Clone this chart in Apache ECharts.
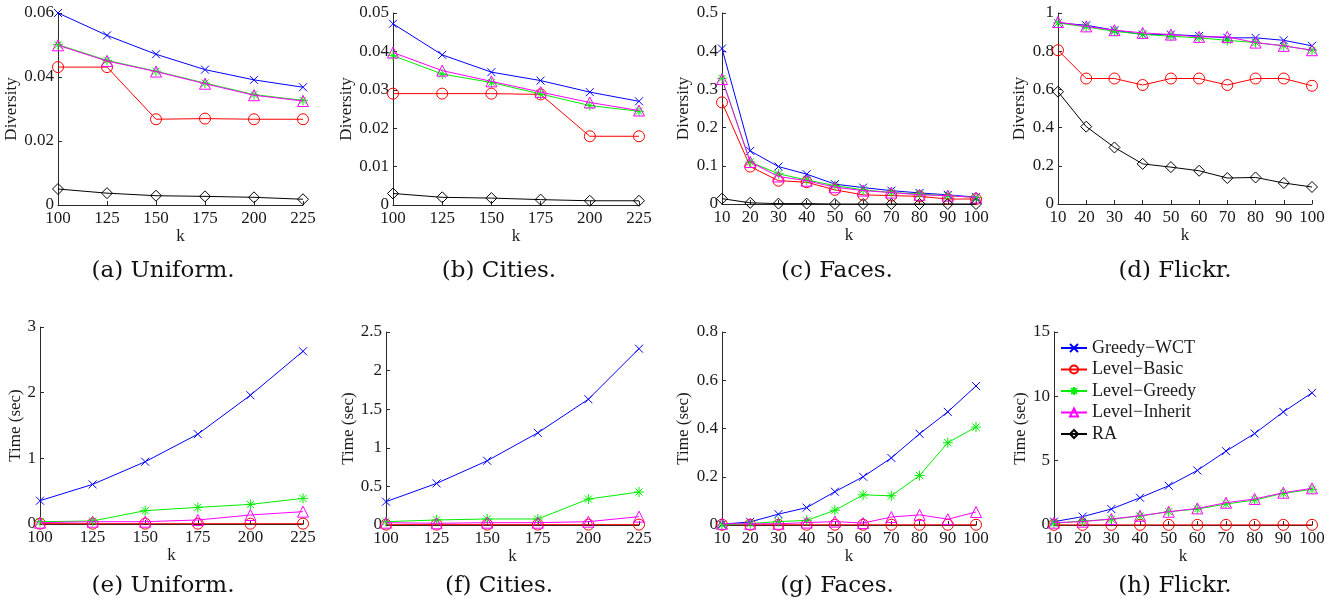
<!DOCTYPE html>
<html><head><meta charset="utf-8">
<script src="https://cdn.jsdelivr.net/npm/echarts@6/dist/echarts.min.js"></script>
<style>html,body{margin:0;padding:0;background:#fff}#c{width:1341px;height:608px}</style>
</head><body><div id="c"></div>
<script>
// ---------- DATA ----------
const seriesNames = ['Greedy\u2212WCT', 'Level\u2212Basic', 'Level\u2212Greedy', 'Level\u2212Inherit', 'RA'];
const kSmall = [100, 125, 150, 175, 200, 225];
const kLarge = [10, 20, 30, 40, 50, 60, 70, 80, 90, 100];
const captions = ['(a) Uniform.', '(b) Cities.', '(c) Faces.', '(d) Flickr.', '(e) Uniform.', '(f) Cities.', '(g) Faces.', '(h) Flickr.'];

// rows: Greedy-WCT, Level-Basic, Level-Greedy, Level-Inherit, RA
const divUniform = [
  [0.0600, 0.0530, 0.0471, 0.0423, 0.0391, 0.0368],
  [0.0431, 0.0431, 0.0268, 0.0270, 0.0268, 0.0268],
  [0.0501, 0.0452, 0.0418, 0.0381, 0.0345, 0.0327],
  [0.0499, 0.0450, 0.0417, 0.0379, 0.0343, 0.0325],
  [0.0050, 0.0037, 0.0029, 0.0027, 0.0024, 0.0018]
];
const divCities = [
  [0.0472, 0.0391, 0.0346, 0.0324, 0.0294, 0.0270],
  [0.0290, 0.0290, 0.0290, 0.0288, 0.0179, 0.0179],
  [0.0389, 0.0341, 0.0319, 0.0289, 0.0259, 0.0244],
  [0.0397, 0.0350, 0.0322, 0.0294, 0.0267, 0.0246],
  [0.0030, 0.0020, 0.0018, 0.0014, 0.0011, 0.0011]
];
const divFaces = [
  [0.407, 0.139, 0.098, 0.078, 0.052, 0.043, 0.035, 0.029, 0.024, 0.018],
  [0.266, 0.098, 0.061, 0.057, 0.037, 0.024, 0.022, 0.020, 0.013, 0.013],
  [0.329, 0.110, 0.079, 0.063, 0.048, 0.037, 0.030, 0.026, 0.022, 0.017],
  [0.327, 0.110, 0.072, 0.061, 0.044, 0.035, 0.030, 0.024, 0.022, 0.017],
  [0.014, 0.003, 0.001, 0.001, 0.000, 0.000, 0.000, 0.000, 0.000, 0.000]
];
const divFlickr = [
  [0.948, 0.936, 0.910, 0.887, 0.887, 0.880, 0.870, 0.870, 0.857, 0.828],
  [0.805, 0.657, 0.657, 0.623, 0.657, 0.657, 0.623, 0.657, 0.657, 0.619],
  [0.948, 0.927, 0.904, 0.889, 0.878, 0.870, 0.857, 0.845, 0.828, 0.805],
  [0.953, 0.930, 0.910, 0.896, 0.887, 0.875, 0.875, 0.845, 0.828, 0.805],
  [0.588, 0.405, 0.296, 0.210, 0.193, 0.174, 0.136, 0.139, 0.110, 0.089]
];
// time panels: RA is not drawn in the reference (rows: Greedy-WCT, Level-Basic, Level-Greedy, Level-Inherit)
const timeUniform = [
  [0.355, 0.603, 0.948, 1.368, 1.961, 2.630],
  [0.005, 0.005, 0.005, 0.005, 0.005, 0.005],
  [0.035, 0.046, 0.203, 0.253, 0.299, 0.390],
  [0.020, 0.035, 0.035, 0.061, 0.137, 0.188]
];
const timeCities = [
  [0.302, 0.539, 0.832, 1.194, 1.629, 2.284],
  [0.005, 0.005, 0.005, 0.005, 0.005, 0.005],
  [0.043, 0.065, 0.078, 0.078, 0.336, 0.427],
  [0.030, 0.022, 0.030, 0.030, 0.043, 0.108]
];
const timeFaces = [
  [0.003, 0.013, 0.045, 0.072, 0.138, 0.200, 0.278, 0.378, 0.469, 0.576],
  [0.001, 0.001, 0.001, 0.001, 0.001, 0.001, 0.001, 0.001, 0.001, 0.001],
  [0.000, 0.006, 0.014, 0.019, 0.061, 0.125, 0.121, 0.205, 0.341, 0.406],
  [0.005, 0.005, 0.005, 0.010, 0.014, 0.008, 0.033, 0.042, 0.024, 0.054]
];
const timeFlickr = [
  [0.26, 0.65, 1.24, 2.12, 3.05, 4.24, 5.74, 7.11, 8.79, 10.27],
  [0.01, 0.01, 0.01, 0.01, 0.01, 0.01, 0.01, 0.01, 0.01, 0.01],
  [0.13, 0.31, 0.44, 0.70, 1.03, 1.24, 1.63, 1.94, 2.46, 2.77],
  [0.18, 0.26, 0.47, 0.72, 1.03, 1.29, 1.73, 2.02, 2.51, 2.85]
];

// ---------- LAYOUT / STYLE ----------
const panels = [
  {k: kSmall, d: divUniform, xmin: 100, xmax: 225, xint: 25, ymax: 0.06, yint: 0.02, yname: 'Diversity', ng: 34, g: [58, 13, 245, 192], cx: 163, cy: 271},
  {k: kSmall, d: divCities, xmin: 100, xmax: 225, xint: 25, ymax: 0.05, yint: 0.01, yname: 'Diversity', ng: 34, g: [393, 13, 246, 192], cx: 499, cy: 271},
  {k: kLarge, d: divFaces, xmin: 10, xmax: 100, xint: 10, ymax: 0.5, yint: 0.1, yname: 'Diversity', ng: 30, g: [722, 13, 254, 191], cx: 837, cy: 271},
  {k: kLarge, d: divFlickr, xmin: 10, xmax: 100, xint: 10, ymax: 1, yint: 0.2, yname: 'Diversity', ng: 30, g: [1058, 13, 254, 191], cx: 1175, cy: 271},
  {k: kSmall, d: timeUniform, xmin: 100, xmax: 225, xint: 25, ymax: 3, yint: 1, yname: 'Time (sec)', ng: 16, g: [40, 327, 263, 197], cx: 163, cy: 586},
  {k: kSmall, d: timeCities, xmin: 100, xmax: 225, xint: 25, ymax: 2.5, yint: 0.5, yname: 'Time (sec)', ng: 28, g: [386, 332, 253, 193], cx: 499, cy: 586},
  {k: kLarge, d: timeFaces, xmin: 10, xmax: 100, xint: 10, ymax: 0.8, yint: 0.2, yname: 'Time (sec)', ng: 30, g: [722, 332, 254, 193], cx: 837, cy: 586},
  {k: kLarge, d: timeFlickr, xmin: 10, xmax: 100, xint: 10, ymax: 15, yint: 5, yname: 'Time (sec)', ng: 24, g: [1054, 332, 258, 193], cx: 1175, cy: 586}
];

const symX = 'path://M0,0L10,10M10,0L0,10';
const symStar = 'path://M5,0L5,10M0,5L10,5M1.4,1.4L8.6,8.6M8.6,1.4L1.4,8.6';
const styles = [
  {color: '#0000ff', symbol: symX, size: 8},
  {color: '#ff0000', symbol: 'circle', size: 11},
  {color: '#00ee00', symbol: symStar, size: 10},
  {color: '#ff00ff', symbol: 'triangle', size: 11},
  {color: '#000000', symbol: 'diamond', size: 11}
];

const FONT = 'Liberation Serif';
const axisColor = '#2a2a2a';

const grid = [], xAxis = [], yAxis = [], series = [], graphic = [];
panels.forEach((p, i) => {
  grid.push({left: p.g[0], top: p.g[1], width: p.g[2], height: p.g[3], containLabel: false});
  xAxis.push({
    type: 'value', gridIndex: i, min: p.xmin, max: p.xmax, interval: p.xint,
    axisLine: {show: true, onZero: false, lineStyle: {color: axisColor, width: 1}},
    axisTick: {show: true, inside: true, length: 4, lineStyle: {color: axisColor}},
    axisLabel: {fontFamily: FONT, fontSize: 17, color: '#1a1a1a', margin: 5},
    splitLine: {show: false},
    name: 'k', nameLocation: 'middle', nameGap: 21,
    nameTextStyle: {fontFamily: FONT, fontSize: 17, color: '#1a1a1a'}
  });
  yAxis.push({
    type: 'value', gridIndex: i, min: 0, max: p.ymax, interval: p.yint,
    axisLine: {show: true, lineStyle: {color: axisColor, width: 1}},
    axisTick: {show: true, inside: true, length: 4, lineStyle: {color: axisColor}},
    axisLabel: {fontFamily: FONT, fontSize: 17, color: '#1a1a1a', margin: 4},
    splitLine: {show: false},
    name: p.yname, nameLocation: 'middle', nameRotate: 90, nameGap: p.ng,
    nameTextStyle: {fontFamily: FONT, fontSize: 17, color: '#1a1a1a'}
  });
  p.d.forEach((vals, s) => {
    const st = styles[s];
    series.push({
      type: 'line', name: seriesNames[s], xAxisIndex: i, yAxisIndex: i,
      data: p.k.map((k, j) => [k, vals[j]]),
      symbol: st.symbol, symbolSize: st.size, showAllSymbol: true,
      lineStyle: {color: st.color, width: 1},
      itemStyle: {color: 'none', borderColor: st.color, borderWidth: 1},
      emphasis: {disabled: true}, silent: true, clip: false, z: 2 + s
    });
  });
  graphic.push({
    type: 'text', x: p.cx, y: p.cy,
    style: {text: captions[i], font: '23px "DejaVu Serif"', fill: '#111', textAlign: 'center', textVerticalAlign: 'middle'}
  });
});

const chart = echarts.init(document.getElementById('c'), null, {renderer: 'canvas'});
chart.setOption({
  animation: false,
  backgroundColor: '#ffffff',
  grid, xAxis, yAxis, series, graphic,
  legend: {
    data: seriesNames, orient: 'vertical', left: 1060, top: 339, padding: 0,
    itemWidth: 26, itemHeight: 10, itemGap: 3.5,
    textStyle: {fontFamily: FONT, fontSize: 18, color: '#1a1a1a', lineHeight: 17},
    selectedMode: false
  }
});
</script></body></html>
